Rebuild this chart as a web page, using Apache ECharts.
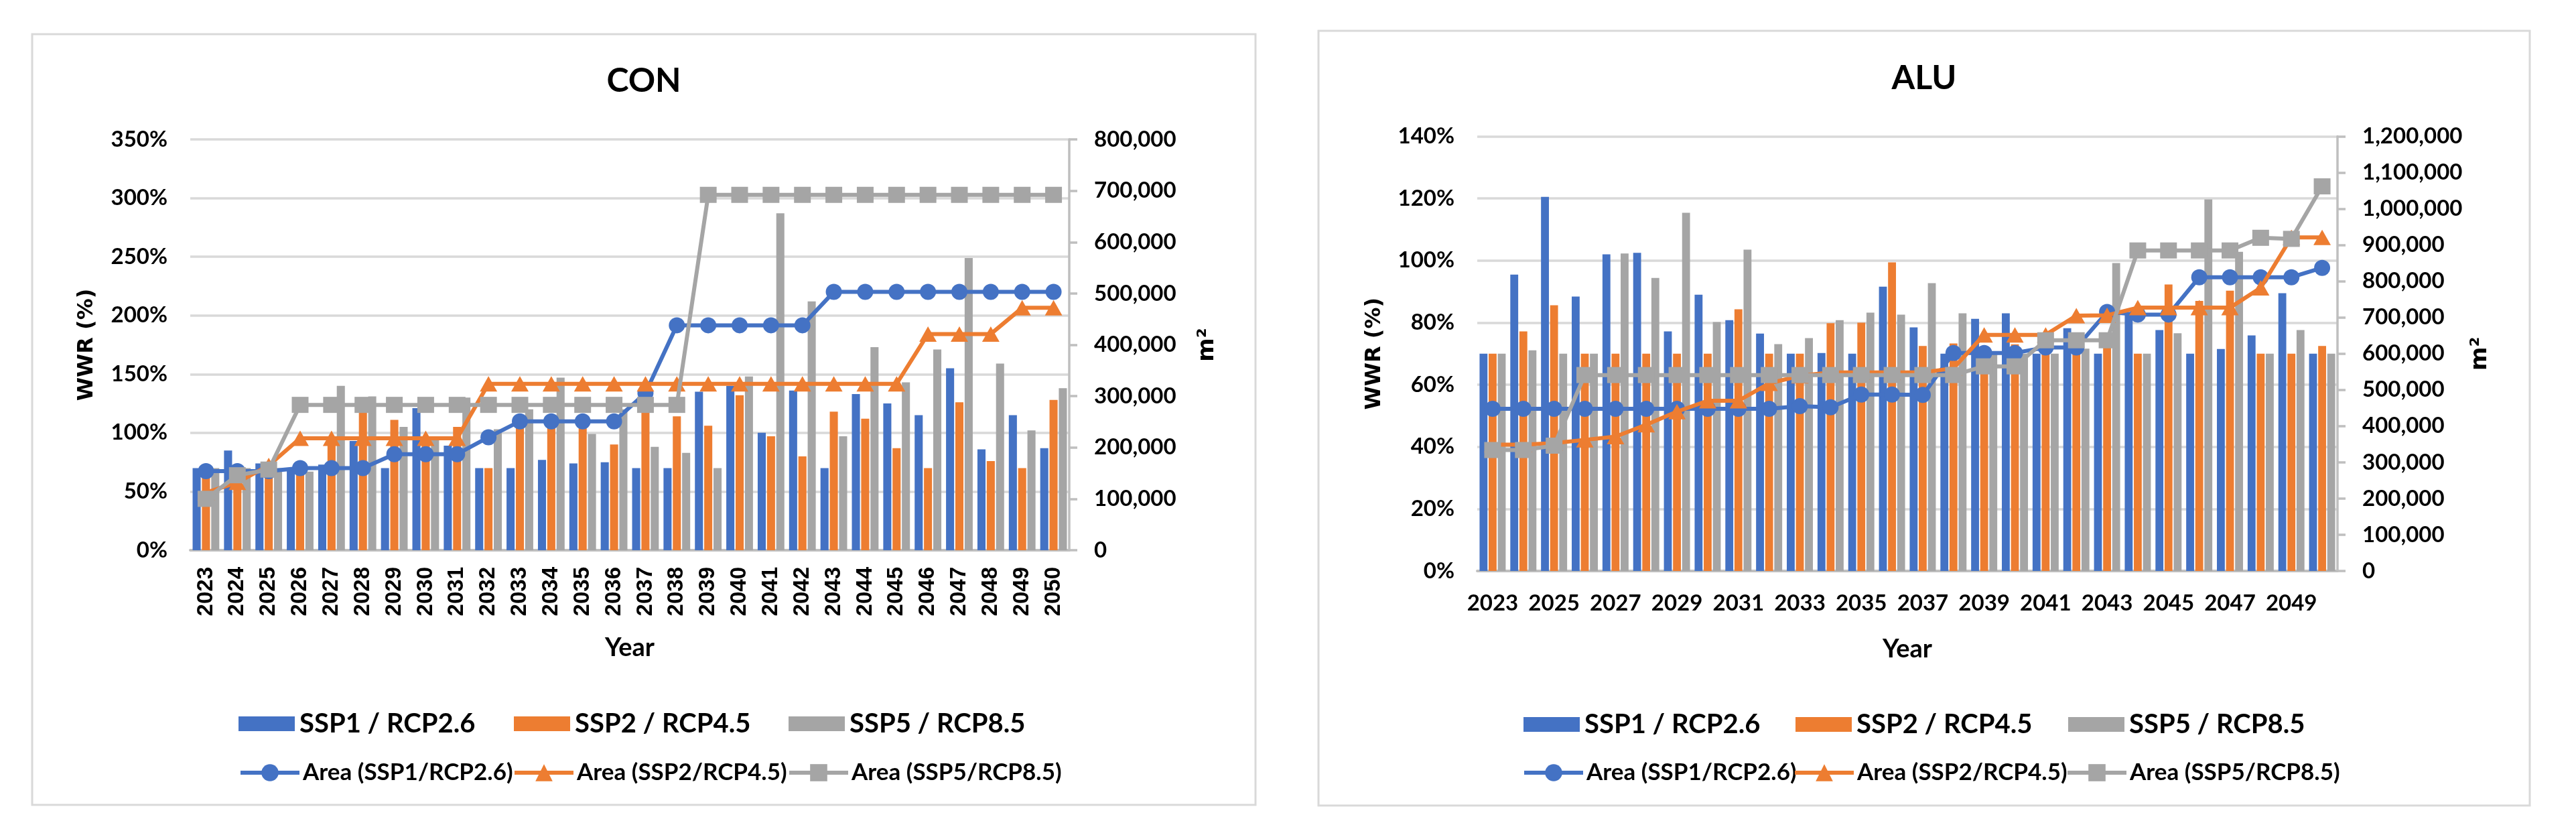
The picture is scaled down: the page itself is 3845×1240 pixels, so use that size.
<!DOCTYPE html>
<html><head><meta charset="utf-8">
<script src="https://cdn.jsdelivr.net/npm/echarts@6/dist/echarts.min.js"></script>
<style>html,body{margin:0;padding:0;background:#fff}#c{width:3845px;height:1240px}</style>
</head><body><div id="c"></div>
<script>
const years = ['2023','2024','2025','2026','2027','2028','2029','2030','2031','2032','2033','2034','2035','2036','2037','2038','2039','2040','2041','2042','2043','2044','2045','2046','2047','2048','2049','2050'];

const barNames = ['SSP1 / RCP2.6', 'SSP2 / RCP4.5', 'SSP5 / RCP8.5'];
const lineNames = ['Area (SSP1/RCP2.6)', 'Area (SSP2/RCP4.5)', 'Area (SSP5/RCP8.5)'];

// CON – WWR (%)
const conWwrSsp1 = [70,85,74,70,73,93,70,121,89,70,70,77,74,75,70,70,135,140,100,136,70,133,125,115,155,86,115,87];
const conWwrSsp2 = [62,58,65,65,95,122,111,90,105,70,112,110,105,90,135,114,106,132,97,80,118,112,87,70,126,76,70,128];
const conWwrSsp5 = [70,70,70,67,140,131,105,94,130,103,120,147,99,120,88,83,70,148,287,212,97,173,143,171,249,159,102,138];
// CON – Area (m2)
const conAreaSsp1 = [154000,154000,154000,160000,160000,160000,187000,187000,187000,220000,251000,251000,251000,251000,306000,438000,438000,438000,438000,438000,503000,503000,503000,503000,503000,503000,503000,503000];
const conAreaSsp2 = [112000,132000,165000,218000,218000,218000,218000,218000,218000,324000,324000,324000,324000,324000,324000,324000,324000,324000,324000,324000,324000,324000,324000,421000,421000,421000,472000,472000];
const conAreaSsp5 = [100000,146000,157000,283000,283000,283000,283000,283000,283000,283000,283000,283000,283000,283000,283000,283000,692000,692000,692000,692000,692000,692000,692000,692000,692000,692000,692000,692000];

// ALU – WWR (%)
const aluWwrSsp1 = [70,95.5,120.5,88.4,102,102.5,77.2,89,80.8,76.5,70,70.2,70,91.6,78.5,70,81.2,83,70,78.2,70,83,77.6,70,71.5,75.9,89.5,70];
const aluWwrSsp2 = [70,77.2,85.6,70,70,70,70,70,84.3,70,70,79.8,80,99.4,72.5,73.3,70,73,70,70,75,70,92.3,87,90.3,70,70,72.5];
const aluWwrSsp5 = [70,71.1,70,70,102.3,94.4,115.4,80.2,103.5,73.1,75,80.8,83.2,82.6,92.7,83,70,70,70,71.6,99.2,70,76.6,119.7,102.8,70,77.6,70];
// ALU – Area (m2)
const aluAreaSsp1 = [448000,448000,448000,448000,448000,448000,448000,448000,448000,448000,455000,452000,487000,487000,486000,602000,602000,602000,617000,617000,715000,708000,708000,811000,811000,811000,811000,837000];
const aluAreaSsp2 = [349000,349000,353000,362000,371000,404000,440000,470000,470000,518000,539000,548000,548000,548000,548000,560000,652000,652000,652000,705000,706000,727000,727000,727000,727000,782000,921000,921000];
const aluAreaSsp5 = [334000,334000,346000,541000,541000,541000,541000,541000,541000,541000,541000,541000,541000,541000,541000,541000,565000,565000,637000,637000,637000,885000,885000,885000,885000,920000,917000,1062000];

const colors = ['#4472C4', '#ED7D31', '#A5A5A5'];
const symbols = ['circle', 'triangle', 'rect'];
const symbolSizes = [24, [26, 23], [25, 24]];
const FONT = 'Lato';
const fmtThousands = v => String(v).replace(/\B(?=(\d{3})+(?!\d))/g, ',');

function makeSeries(xi, yl, yr, wwr, area) {
  const s = [];
  for (let i = 0; i < 3; i++) {
    s.push({
      name: barNames[i], type: 'bar', xAxisIndex: xi, yAxisIndex: yl,
      data: wwr[i], itemStyle: { color: colors[i] },
      barGap: '15%', barCategoryGap: '15%', z: 2
    });
  }
  for (let i = 0; i < 3; i++) {
    s.push({
      name: lineNames[i], type: 'line', xAxisIndex: xi, yAxisIndex: yr,
      data: area[i], symbol: symbols[i], symbolSize: symbolSizes[i],
      showAllSymbol: true,
      itemStyle: { color: colors[i], borderWidth: 0 },
      lineStyle: { color: colors[i], width: 6 }, z: 5 + i
    });
  }
  return s;
}

function leftY(gi, max, interval, nameGap) {
  return {
    type: 'value', gridIndex: gi, position: 'left', min: 0, max: max, interval: interval,
    name: 'WWR (%)', nameLocation: 'middle', nameRotate: 90, nameGap: nameGap,
    nameTextStyle: { fontFamily: 'DejaVu Sans', fontWeight: 'bold', fontSize: 32, color: '#000' },
    axisLine: { show: false }, axisTick: { show: false },
    axisLabel: { formatter: '{value}%', fontFamily: FONT, fontWeight: 'bold', fontSize: 33, color: '#000', margin: 34 },
    splitLine: { show: true, lineStyle: { color: '#d9d9d9', width: 3.5 } }
  };
}
function rightY(gi, max, nameGap) {
  return {
    type: 'value', gridIndex: gi, position: 'right', min: 0, max: max, interval: 100000,
    name: 'm²', nameLocation: 'middle', nameRotate: 90, nameGap: nameGap,
    nameTextStyle: { fontFamily: 'DejaVu Sans', fontWeight: 'bold', fontSize: 34, color: '#000' },
    axisLine: { show: true, lineStyle: { color: '#bfbfbf', width: 3.5 } },
    axisTick: { show: true, inside: false, length: 12, lineStyle: { color: '#bfbfbf', width: 3.5 } },
    axisLabel: { formatter: fmtThousands, fontFamily: FONT, fontWeight: 'bold', fontSize: 33, color: '#000', margin: 37 },
    splitLine: { show: false }
  };
}

function legendsFor(xs1, xs2, y1, y2) {
  const out = [];
  for (let i = 0; i < 3; i++) {
    out.push({
      data: [barNames[i]], left: xs1[i], top: y1 - 21, padding: 0,
      itemWidth: 84, itemHeight: 22, icon: 'rect', selectedMode: false, itemGap: 0,
      textStyle: { fontFamily: FONT, fontWeight: 'bold', fontSize: 40, color: '#000', lineHeight: 42, padding: [0, 0, 0, 2] }
    });
    out.push({
      data: [lineNames[i]], left: xs2[i], top: y2 - 21, padding: 0,
      itemWidth: 88, itemHeight: 32, selectedMode: false, itemGap: 0,
      lineStyle: { width: 6 },
      textStyle: { fontFamily: FONT, fontWeight: 'bold', fontSize: 35, color: '#000', lineHeight: 42, padding: [0, 0, 0, 0] }
    });
  }
  return out;
}

const chart = echarts.init(document.getElementById('c'), null, { renderer: 'canvas' });
chart.setOption({
  animation: false,
  backgroundColor: '#fff',
  title: [
    { text: 'CON', left: 961, top: 96, textAlign: 'center', padding: 0,
      textStyle: { fontFamily: FONT, fontWeight: 'bold', fontSize: 50, color: '#000' } },
    { text: 'ALU', left: 2872, top: 92, textAlign: 'center', padding: 0,
      textStyle: { fontFamily: FONT, fontWeight: 'bold', fontSize: 50, color: '#000' } }
  ],
  graphic: [
    { type: 'rect', shape: { x: 48, y: 51, width: 1826, height: 1150 }, style: { fill: 'none', stroke: '#d9d9d9', lineWidth: 3 }, silent: true },
    { type: 'rect', shape: { x: 1968, y: 46, width: 1808, height: 1156 }, style: { fill: 'none', stroke: '#d9d9d9', lineWidth: 3 }, silent: true }
  ],
  legend: legendsFor([356, 767, 1177], [356, 765, 1175], 1080, 1153)
    .concat(legendsFor([2274, 2680, 3087], [2272, 2676, 3083], 1081, 1153)),
  grid: [
    { left: 284, top: 208, width: 1312, height: 613, containLabel: false, outerBoundsMode: 'none' },
    { left: 2205, top: 203.5, width: 1284, height: 648.5, containLabel: false, outerBoundsMode: 'none' }
  ],
  xAxis: [
    { type: 'category', gridIndex: 0, data: years,
      name: 'Year', nameLocation: 'middle', nameGap: 127,
      nameTextStyle: { fontFamily: FONT, fontWeight: 'bold', fontSize: 38, color: '#000' },
      axisLine: { show: true, lineStyle: { color: '#bfbfbf', width: 4 } }, axisTick: { show: false },
      axisLabel: { interval: 0, rotate: 90, fontFamily: 'Liberation Sans', fontWeight: 'bold', fontSize: 33, color: '#000', margin: 25 } },
    { type: 'category', gridIndex: 1, data: years,
      name: 'Year', nameLocation: 'middle', nameGap: 98,
      nameTextStyle: { fontFamily: FONT, fontWeight: 'bold', fontSize: 38, color: '#000' },
      axisLine: { show: true, lineStyle: { color: '#bfbfbf', width: 4 } }, axisTick: { show: false },
      axisLabel: { interval: 1, fontFamily: FONT, fontWeight: 'bold', fontSize: 33, color: '#000', margin: 32 } }
  ],
  yAxis: [
    leftY(0, 350, 50, 138), rightY(0, 800000, 189),
    leftY(1, 140, 20, 137), rightY(1, 1200000, 196)
  ],
  series: makeSeries(0, 0, 1, [conWwrSsp1, conWwrSsp2, conWwrSsp5], [conAreaSsp1, conAreaSsp2, conAreaSsp5])
    .concat(makeSeries(1, 2, 3, [aluWwrSsp1, aluWwrSsp2, aluWwrSsp5], [aluAreaSsp1, aluAreaSsp2, aluAreaSsp5]))
});
</script></body></html>
